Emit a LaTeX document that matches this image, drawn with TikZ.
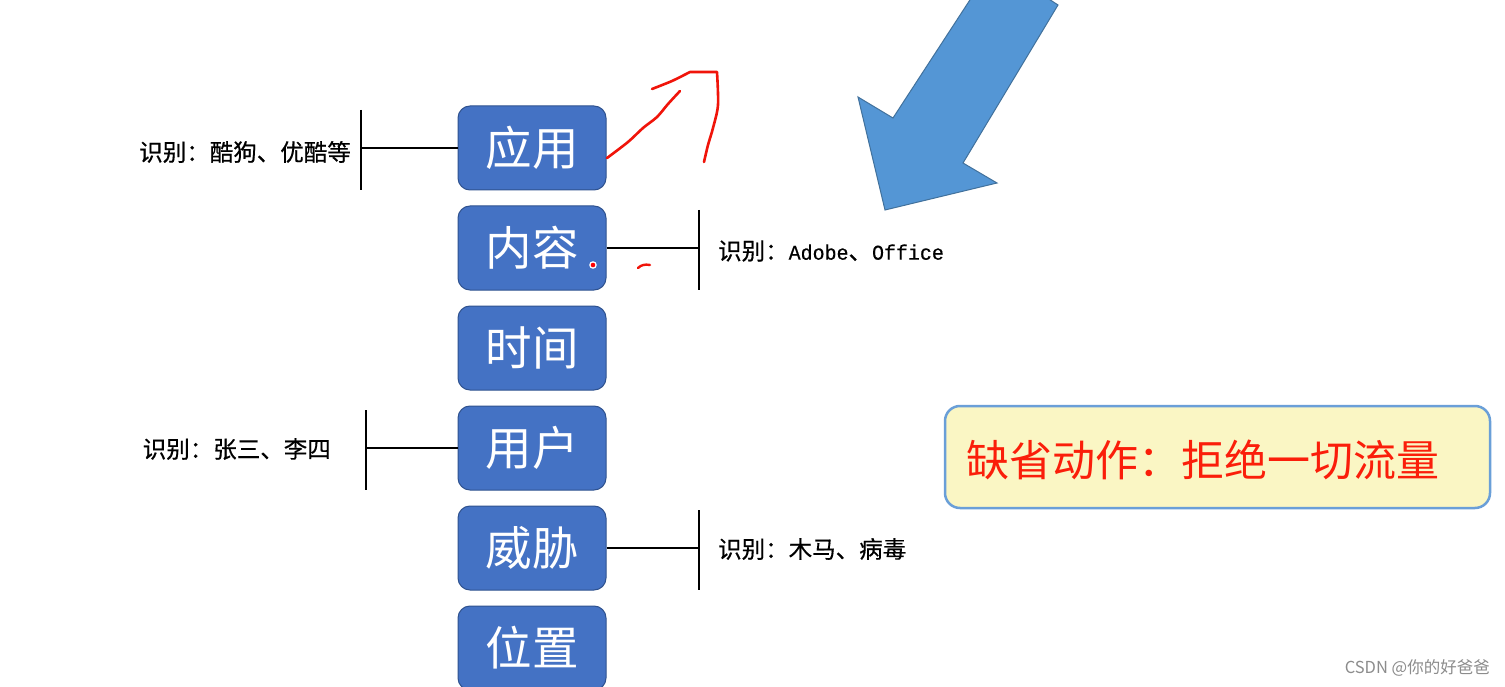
\documentclass[tikz,border=0pt]{standalone}
\usepackage{fontspec}
\setmainfont{Noto Sans CJK SC}
\newfontfamily\cjk{Noto Sans CJK SC}
\newfontfamily\cjklabel[FakeBold=0.5]{Noto Sans CJK SC}
\newfontfamily\latmono[FakeStretch=0.95,FakeBold=0.4]{Liberation Mono}
\definecolor{boxblue}{RGB}{68,114,196}
\definecolor{boxedge}{RGB}{47,82,143}
\definecolor{arrowblue}{RGB}{84,150,213}
\definecolor{arrowedge}{RGB}{65,113,156}
\definecolor{notefill}{RGB}{250,246,196}
\definecolor{noteedge}{RGB}{106,159,216}
\definecolor{inkred}{RGB}{240,20,10}
\definecolor{notered}{RGB}{250,30,10}
\tikzset{
  catbox/.style={draw=boxedge, line width=1pt, fill=boxblue, rounded corners=12pt,
    minimum width=148pt, minimum height=84pt, inner sep=0pt, text=white,
    font=\cjk\fontsize{46.5}{50}\selectfont},
  idlabel/.style={inner sep=0pt, font=\cjklabel\fontsize{23.5}{26}\selectfont, text=black},
  stem/.style={line width=2.2pt, black},
  bar/.style={line width=2.8pt, black},
  ink/.style={inkred, line width=2.6pt, line cap=round, line join=round},
}
\begin{document}
\begin{tikzpicture}[x=1pt, y=-1pt]
\useasboundingbox (0,0) rectangle (1505,687);
\clip (0,0) rectangle (1505,687);
\fill[white] (0,0) rectangle (1505,687);

% category boxes
\node[catbox] (app)  at (532,148) {应用};
\node[catbox] (cont) at (532,248) {内容};
\node[catbox] (time) at (532,348) {时间};
\node[catbox] (user) at (532,448) {用户};
\node[catbox] (thr)  at (532,548) {威胁};
\node[catbox] (loc)  at (532,648) {位置};

% 应用 branch (left)
\coordinate (b1t) at (361,110);
\coordinate (b1b) at (361,190);
\draw[bar] (b1t) -- (b1b);
\draw[stem] (app.west) -- (b1t|-app.west);
\node[idlabel, anchor=east] (l1) at (351,152) {识别：酷狗、优酷等};

% 内容 branch (right)
\coordinate (b2t) at (699,210);
\coordinate (b2b) at (699,290);
\draw[bar] (b2t) -- (b2b);
\draw[stem] (cont.east) -- (b2t|-cont.east);
\node[idlabel, anchor=west] (l2) at (718,251) {识别：{\latmono\fontsize{21}{24}\selectfont Adobe}、{\latmono\fontsize{21}{24}\selectfont Office}};

% 用户 branch (left)
\coordinate (b4t) at (366,410);
\coordinate (b4b) at (366,490);
\draw[bar] (b4t) -- (b4b);
\draw[stem] (user.west) -- (b4t|-user.west);
\node[idlabel, anchor=east] (l4) at (331,449) {识别：张三、李四};

% 威胁 branch (right)
\coordinate (b5t) at (699,510);
\coordinate (b5b) at (699,590);
\draw[bar] (b5t) -- (b5b);
\draw[stem] (thr.east) -- (b5t|-thr.east);
\node[idlabel, anchor=west] (l5) at (718,549) {识别：木马、病毒};

% big blue arrow
\draw[fill=arrowblue, draw=arrowedge, line width=1pt, line join=miter]
  (994,-37) -- (1058,5) -- (963,163) -- (997,183) -- (885,210) -- (858,97) -- (893,118) -- cycle;

% default action note
\node[draw=noteedge, line width=2.5pt, fill=notefill, rounded corners=15pt,
  minimum width=545pt, minimum height=102pt, inner sep=0pt] (note) at (1217.5,457) {};
\node[anchor=west, inner sep=0pt, text=notered, font=\cjk\fontsize{43}{48}\selectfont]
  (notetext) at (966,460) {缺省动作：拒绝一切流量};

% red hand-drawn marks
\draw[ink] plot[smooth, tension=0.5] coordinates {(607,158) (628,142) (643,128) (657,117) (668,104) (680,91)};
\draw[ink] plot[smooth, tension=0.4] coordinates {(652,89) (672,81) (690,72)} -- (717,72)
  plot[smooth, tension=0.5] coordinates {(717,72) (718,105) (713,128) (708,145) (704,162)};
\draw[ink, line width=2.4pt] (638,268) .. controls (641,265) and (645,264) .. (650,265);
\fill[white] (593,265) circle (3.8pt);
\fill[red] (593,265) circle (2.3pt);

% watermark
\node[anchor=east, inner sep=0pt, text=black!45, font=\cjk\fontsize{16.5}{18}\selectfont] (wm) at (1490,668) {CSDN @你的好爸爸};
\end{tikzpicture}
\end{document}
